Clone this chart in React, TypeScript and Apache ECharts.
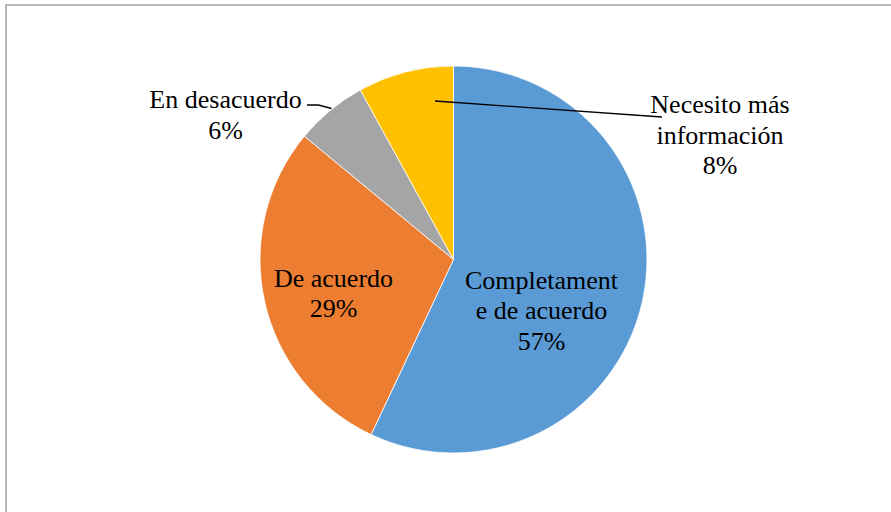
import React, { useEffect, useRef } from "react";
import * as echarts from "echarts";

const categories = [
  "Completamente de acuerdo",
  "De acuerdo",
  "En desacuerdo",
  "Necesito más información",
];
const displayNames = [
  "Completament\ne de acuerdo",
  "De acuerdo",
  "En desacuerdo",
  "Necesito más\ninformación",
];
const values = [57, 29, 6, 8];
const colors = ["#5B9BD5", "#ED7D31", "#A5A5A5", "#FFC000"];

const CX = 453.5;
const CY = 259.5;
const R = 193.5;
const FONT = "Liberation Serif, Tinos, Times New Roman, Noto Serif, DejaVu Serif, serif";

// label centre offsets relative to pie centre (Excel-like placement)
const labelOffsets: [number, number][] = [
  [88, 51],
  [-120, 34],
  [-228, 115 - CY],
  [266.5, 135 - CY],
];

export default function App() {
  const ref = useRef<HTMLDivElement>(null);
  useEffect(() => {
    if (!ref.current) return;
    const chart = echarts.init(ref.current, undefined, { renderer: "svg" });
    const data = categories.map((name, i) => ({
      name,
      value: values[i],
      itemStyle: { color: colors[i] },
      label: { position: i < 2 ? "inside" : "outside" },
      labelLine: { show: i === 2 },
    }));
    chart.setOption({
      animation: false,
      backgroundColor: "#ffffff",
      textStyle: { fontFamily: FONT },
      graphic: [
        {
          type: "rect",
          shape: { x: 6, y: 5, width: 900, height: 520 },
          style: { fill: "none", stroke: "#A0A0A0", lineWidth: 1.5 },
          silent: true,
        },
        {
          type: "polyline",
          z: 100,
          silent: true,
          shape: {
            points: [
              [CX - 18.5, CY - 158.5],
              [CX + 208.5, CY - 142.5],
            ],
          },
          style: { stroke: "#000000", lineWidth: 1.3, fill: "none" },
        },
      ],
      series: [
        {
          type: "pie",
          center: [CX, CY],
          radius: R,
          startAngle: 90,
          clockwise: true,
          data,
          itemStyle: { borderColor: "#ffffff", borderWidth: 0.8 },
          label: {
            show: true,
            fontFamily: FONT,
            fontSize: 26,
            lineHeight: 30.5,
            color: "#000000",
            align: "center",
            formatter: (p: any) =>
              displayNames[p.dataIndex] + "\n" + Math.round(p.percent) + "%",
          },
          labelLine: {
            lineStyle: { color: "#000000", width: 1.3 },
          },
          labelLayout: (p: any) => {
            const i = p.dataIndex;
            const o = labelOffsets[i];
            const res: any = {
              x: CX + o[0],
              y: CY + o[1],
              align: "center",
              verticalAlign: "middle",
            };
            if (i === 2) {
              res.labelLinePoints = [
                [CX - 122, CY - 151],
                [CX - 135, CY - 154.5],
                [CX - 146.5, CY - 154.5],
              ];
            }
            return res;
          },
        },
      ],
    });
    return () => chart.dispose();
  }, []);
  return (
    <div
      ref={ref}
      style={{ position: "absolute", left: 0, top: 0, width: 891, height: 512 }}
    />
  );
}
